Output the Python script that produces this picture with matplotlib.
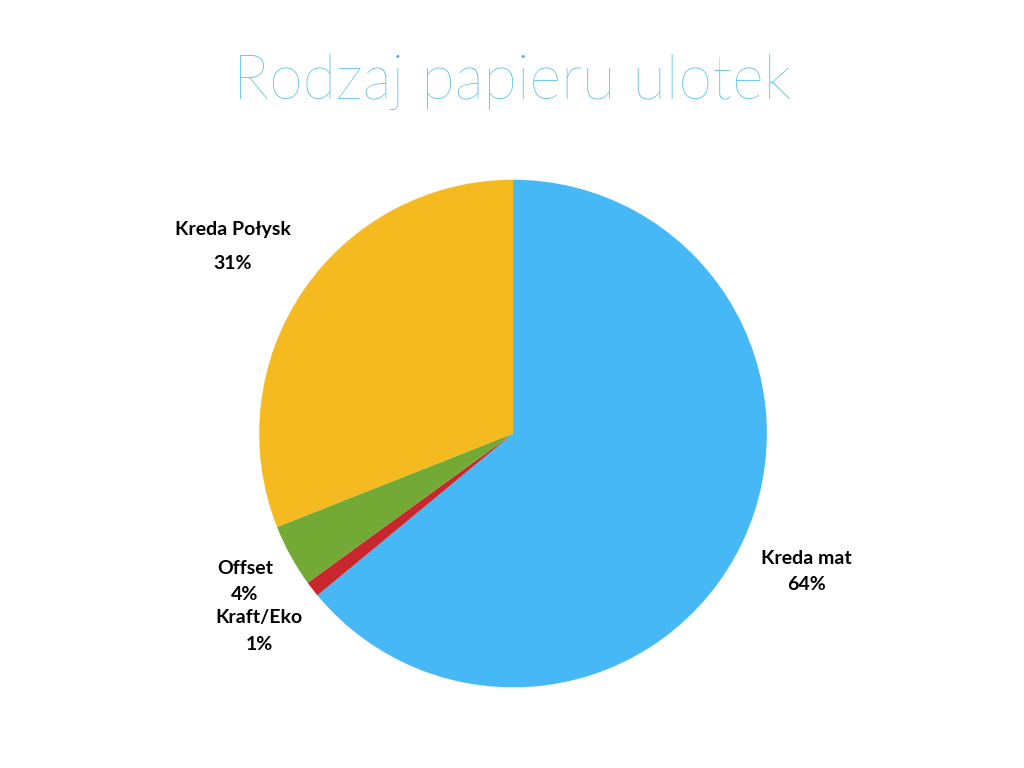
import matplotlib
matplotlib.use("Agg")
import matplotlib.pyplot as plt

labels = ["Kreda mat", "Kraft/Eko", "Offset", "Kreda Połysk"]
values = [64, 1, 4, 31]
colors = ["#46B8F5", "#C8282D", "#72AA35", "#F4BA1F"]

fig = plt.figure(figsize=(10.24, 7.68), dpi=100)
ax = fig.add_axes([0.253, 0.105, 0.496, 0.661])
ax.pie(values, colors=colors, startangle=90, counterclock=False,
       wedgeprops=dict(linewidth=0))
ax.set_xlim(-1, 1); ax.set_ylim(-1, 1); ax.set_aspect("equal")

fig.text(0.500, 0.893, "Rodzaj papieru ulotek", ha="center", va="center",
         fontsize=44, color="#45B8EA", family="Lato", fontweight="light")

pos = {"Kreda mat": [(806, 558), (806, 585)],
       "Kraft/Eko": [(259, 617), (259, 645)],
       "Offset": [(245, 568), (245, 595)],
       "Kreda Połysk": [(233, 229), (233, 263)]}
for lab, v in zip(labels, values):
    (x1, y1), (x2, y2) = pos[lab]
    fig.text(x1/1024, 1-y1/768, lab, ha="center", va="center", fontsize=14,
             fontweight="bold", family="Lato")
    fig.text(x2/1024, 1-y2/768, f"{v}%", ha="center", va="center", fontsize=14,
             fontweight="bold", family="Lato")

fig.savefig("out.png", dpi=100)
